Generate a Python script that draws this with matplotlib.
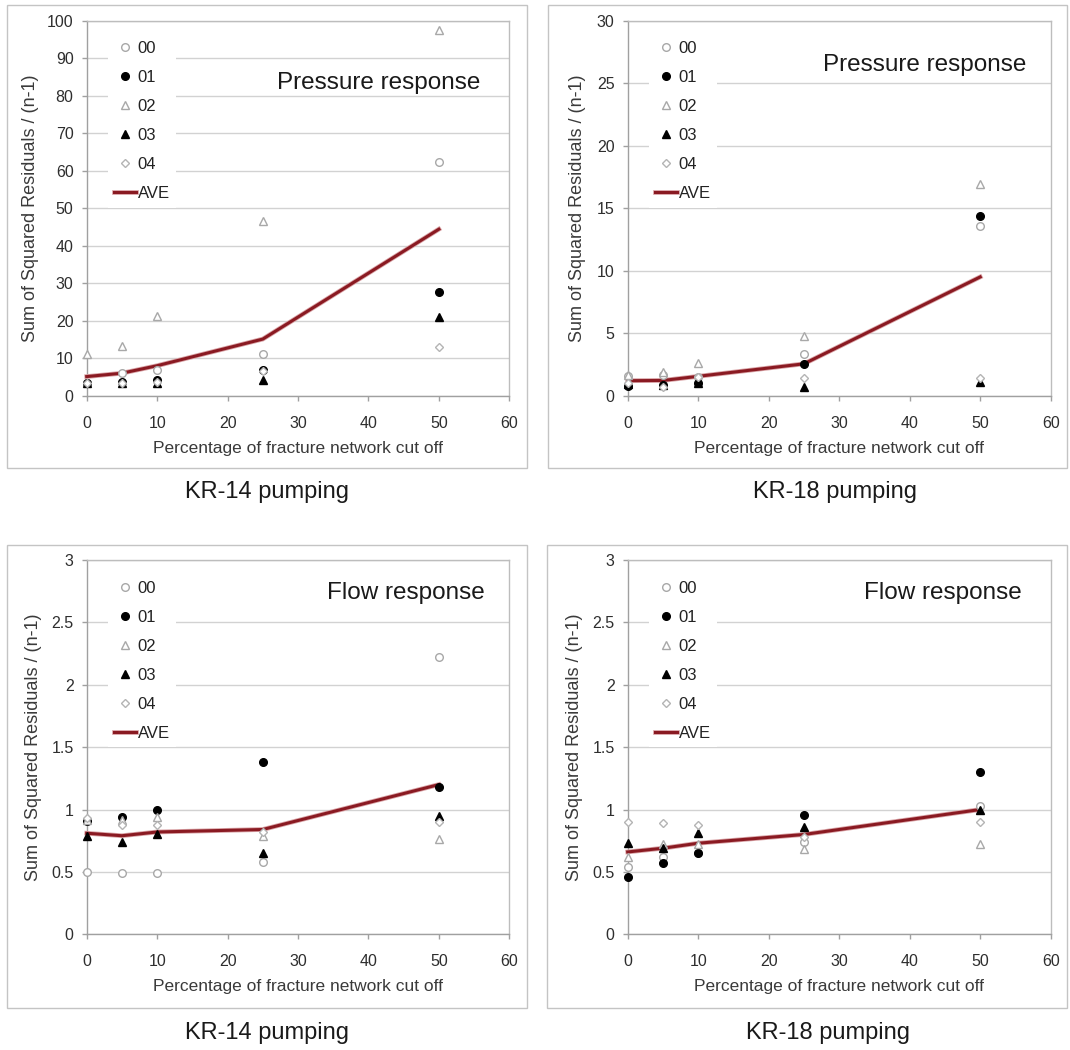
import matplotlib
matplotlib.use("Agg")
import matplotlib.pyplot as plt
import matplotlib.patheffects as pe
from matplotlib.patches import Rectangle
from matplotlib.ticker import FuncFormatter, MultipleLocator

plt.rcParams['font.family'] = ['Liberation Sans', 'DejaVu Sans']

# Percentage of fracture network cut off
pct = [0, 5, 10, 25, 50]
series_labels = ['00', '01', '02', '03', '04']

# KR-14 pumping, pressure response
p14_00 = [3.4, 6.0, 6.8, 11.1, 62.2]
p14_01 = [3.4, 3.6, 4.2, 6.8, 27.6]
p14_02 = [11.2, 13.2, 21.2, 46.6, 97.5]
p14_03 = [3.3, 3.4, 3.5, 4.3, 20.9]
p14_04 = [3.3, 3.5, 3.6, 6.5, 12.9]
p14_ave = [5.1, 6.0, 8.0, 15.1, 44.4]

# KR-18 pumping, pressure response
p18_00 = [1.6, 1.65, 1.5, 3.3, 13.6]
p18_01 = [0.8, 0.88, 1.0, 2.53, 14.4]
p18_02 = [1.66, 1.88, 2.65, 4.8, 16.9]
p18_03 = [0.9, 0.85, 1.0, 0.7, 1.07]
p18_04 = [1.0, 0.7, 1.5, 1.44, 1.4]
p18_ave = [1.2, 1.22, 1.55, 2.55, 9.5]

# KR-14 pumping, flow response
f14_00 = [0.50, 0.49, 0.49, 0.58, 2.22]
f14_01 = [0.91, 0.94, 1.00, 1.38, 1.18]
f14_02 = [0.92, 0.92, 0.94, 0.79, 0.76]
f14_03 = [0.79, 0.74, 0.80, 0.65, 0.95]
f14_04 = [0.93, 0.88, 0.88, 0.82, 0.90]
f14_ave = [0.81, 0.79, 0.82, 0.84, 1.20]

# KR-18 pumping, flow response
f18_00 = [0.54, 0.62, 0.65, 0.74, 1.03]
f18_01 = [0.46, 0.57, 0.65, 0.96, 1.30]
f18_02 = [0.62, 0.72, 0.72, 0.68, 0.72]
f18_03 = [0.73, 0.69, 0.81, 0.86, 1.00]
f18_04 = [0.90, 0.89, 0.88, 0.78, 0.90]
f18_ave = [0.66, 0.69, 0.73, 0.80, 1.00]

panel_titles = ['Pressure response', 'Pressure response', 'Flow response', 'Flow response']
captions = ['KR-14 pumping', 'KR-18 pumping', 'KR-14 pumping', 'KR-18 pumping']
xlabel = 'Percentage of fracture network cut off'
ylabel = 'Sum of Squared Residuals / (n-1)'

W, H = 1070, 1050
fig = plt.figure(figsize=(W / 100, H / 100), dpi=100)
fig.patch.set_facecolor('white')


def fx(px):
    return px / W


def fy(py):
    return 1 - py / H


GREY_MK = '#a8a8a8'
styles = [
    dict(marker='o', ms=5.5, mfc='white', mec=GREY_MK, mew=1.0),
    dict(marker='o', ms=5.5, mfc='black', mec='black', mew=1.0),
    dict(marker='^', ms=6.0, mfc='white', mec=GREY_MK, mew=1.0),
    dict(marker='^', ms=5.5, mfc='black', mec='black', mew=1.0),
    dict(marker='D', ms=4.0, mfc='white', mec='#b4b4b4', mew=1.0),
]

panels = [
    dict(rect=(86.7, 20.7, 509.3, 395.7), frame=(7, 5, 527, 468),
         series=[p14_00, p14_01, p14_02, p14_03, p14_04], ave=p14_ave,
         ymax=100, ystep=10, title_xy=(0.932, 0.835), ylab_x=-0.114,
         cap_xy=(267, 492)),
    dict(rect=(627.7, 20.7, 1050.7, 395.7), frame=(548, 5, 1067, 468),
         series=[p18_00, p18_01, p18_02, p18_03, p18_04], ave=p18_ave,
         ymax=30, ystep=5, title_xy=(0.943, 0.882), ylab_x=-0.098,
         cap_xy=(835, 492)),
    dict(rect=(86.7, 560, 509.3, 934.3), frame=(7, 545, 527, 1008),
         series=[f14_00, f14_01, f14_02, f14_03, f14_04], ave=f14_ave,
         ymax=3, ystep=0.5, title_xy=(0.943, 0.912), ylab_x=-0.106,
         cap_xy=(267, 1033)),
    dict(rect=(627.7, 560, 1050.7, 934.3), frame=(547, 545, 1067, 1008),
         series=[f18_00, f18_01, f18_02, f18_03, f18_04], ave=f18_ave,
         ymax=3, ystep=0.5, title_xy=(0.932, 0.912), ylab_x=-0.105,
         cap_xy=(828, 1033)),
]

for i, p in enumerate(panels):
    # light frame around each chart
    x0, y0, x1, y1 = p['frame']
    fig.add_artist(Rectangle((fx(x0), fy(y1)), (x1 - x0) / W, (y1 - y0) / H,
                             transform=fig.transFigure, fill=False,
                             edgecolor='#c4c4c4', lw=1.0))
    l, t, r, b = p['rect']
    ax = fig.add_axes([fx(l), fy(b), (r - l) / W, (b - t) / H])
    ax.set_xlim(0, 60)
    ax.set_ylim(0, p['ymax'])
    ax.xaxis.set_major_locator(MultipleLocator(10))
    ax.yaxis.set_major_locator(MultipleLocator(p['ystep']))
    ax.yaxis.set_major_formatter(FuncFormatter(lambda v, _: f'{v:g}'))
    ax.yaxis.grid(True, color='#d2d2d2', lw=1.0)
    ax.set_axisbelow(True)
    for s in ax.spines.values():
        s.set_color('#bdbdbd')
        s.set_linewidth(1.0)
    ax.spines['left'].set_color('#a0a0a0')
    ax.spines['bottom'].set_color('#a0a0a0')
    ax.tick_params(axis='x', direction='out', length=3.5, width=1,
                   color='#a0a0a0', pad=11, labelsize=11.5, labelcolor='#2e2e2e')
    ax.tick_params(axis='y', direction='out', length=3.5, width=1,
                   color='#a0a0a0', pad=6, labelsize=11.5, labelcolor='#2e2e2e')

    # average line with a soft halo, points above it
    ax.plot(pct, p['ave'], color='#8a1a22', lw=2.2, label='AVE', zorder=3,
            solid_joinstyle='round', clip_on=False,
            path_effects=[pe.Stroke(linewidth=3.4, foreground='#d9a3a6'), pe.Normal()])
    handles = []
    for lab, vals, st in zip(series_labels, p['series'], styles):
        h, = ax.plot(pct, vals, ls='none', label=lab, zorder=4, clip_on=False, **st)
        handles.append(h)
    handles.append(ax.lines[0])

    leg = ax.legend(handles=handles, loc='upper left', bbox_to_anchor=(0.05, 0.962),
                    borderaxespad=0, frameon=True, fancybox=False, framealpha=1,
                    facecolor='white', edgecolor='none', fontsize=12,
                    handlelength=1.3, handletextpad=0.1, labelspacing=0.84,
                    borderpad=0.38, numpoints=1)
    for txt in leg.get_texts():
        txt.set_color('#222222')

    ax.text(p['title_xy'][0], p['title_xy'][1], panel_titles[i], transform=ax.transAxes,
            ha='right', va='center', fontsize=17.5, color='#1a1a1a')
    ax.set_xlabel(xlabel, fontsize=12.5, color='#3a3a3a', labelpad=7)
    ax.set_ylabel(ylabel, fontsize=13, color='#3a3a3a')
    ax.yaxis.set_label_coords(p['ylab_x'], 0.5)

    fig.text(fx(p['cap_xy'][0]), fy(p['cap_xy'][1]), captions[i], ha='center',
             va='center', fontsize=17, color='#1a1a1a')

fig.savefig('out.png', dpi=100, facecolor='white')
